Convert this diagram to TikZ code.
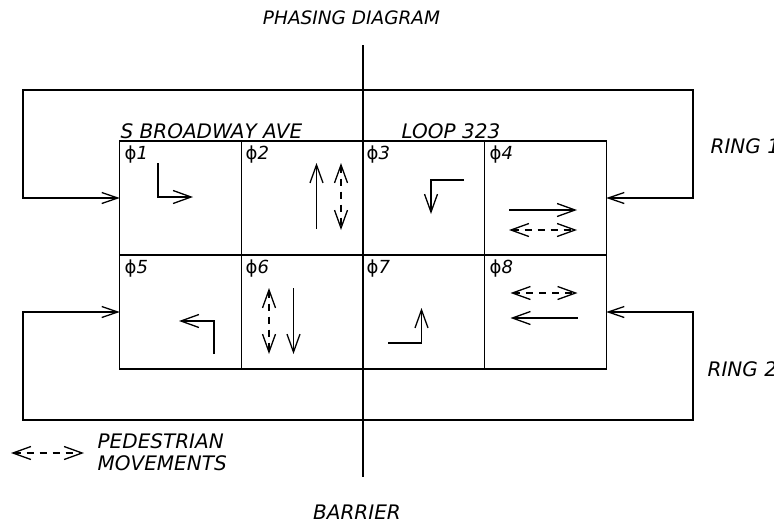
\documentclass[tikz,border=0pt]{standalone}
\usepackage{fontspec}
\setmainfont{DejaVu Sans}
\usetikzlibrary{arrows.meta}
\begin{document}
\begin{tikzpicture}[x=1pt,y=-1pt,
  line width=1.3pt,
  cellbox/.style={draw, minimum width=121.5pt, minimum height=114pt, inner sep=0pt, outer sep=0pt},
  lbl/.style={font=\fontsize{20}{22}\selectfont\itshape, inner sep=0pt},
  ph/.style={font=\fontsize{18}{20}\selectfont, inner sep=0pt, anchor=north west},
  tip/.style={-{Straight Barb[length=18pt,width=13pt]}},
  dtip/.style={{Straight Barb[length=18pt,width=13pt]}-{Straight Barb[length=18pt,width=13pt]}, dash pattern=on 7pt off 6pt},
  rtip/.style={{Straight Barb[length=16pt,width=11pt]}-{Straight Barb[length=16pt,width=11pt]}},
]
\useasboundingbox (0,0) rectangle (774,523);

% barrier
\coordinate (bt) at (363,45);
\coordinate (bb) at (363,477);
\draw (bt) -- (bb);

% cells
\node[cellbox] (c1) at (180.5,198) {};
\node[cellbox] (c2) at (302,198) {};
\node[cellbox] (c3) at (424,198) {};
\node[cellbox] (c4) at (545.5,198) {};
\node[cellbox] (c5) at (180.5,312) {};
\node[cellbox] (c6) at (302,312) {};
\node[cellbox] (c7) at (424,312) {};
\node[cellbox] (c8) at (545.5,312) {};

% phase labels
\node[ph] (p1) at (124,145) {\symbol{"03D5}\itshape 1};
\node[ph] (p2) at (245,145) {\symbol{"03D5}\itshape 2};
\node[ph] (p3) at (366,145) {\symbol{"03D5}\itshape 3};
\node[ph] (p4) at (489,145) {\symbol{"03D5}\itshape 4};
\node[ph] (p5) at (124,259) {\symbol{"03D5}\itshape 5};
\node[ph] (p6) at (245,259) {\symbol{"03D5}\itshape 6};
\node[ph] (p7) at (366,259) {\symbol{"03D5}\itshape 7};
\node[ph] (p8) at (489,259) {\symbol{"03D5}\itshape 8};

% rings
\coordinate (r1a) at (23,90);
\coordinate (r1b) at (693,90);
\draw[rtip] (c1.west) -| (r1a) -- (r1b) |- (c4.east);
\coordinate (r2a) at (23,420);
\coordinate (r2b) at (693,420);
\draw[rtip] (c5.west) -| (r2a) -- (r2b) |- (c8.east);

% movements
\draw[tip] (158,163) -- (158,197) -- (193,197);          % phi1
\draw[tip] (316.5,229) -- (316.5,163);                    % phi2
\draw[dtip] (341,163) -- (341,230);
\draw[tip] (464,180) -- (431,180) -- (431,214);           % phi3
\draw[tip] (509,210) -- (577,210);                        % phi4
\draw[dtip] (509,230) -- (577,230);
\draw[tip] (214,354) -- (214,321) -- (179,321);           % phi5
\draw[dtip] (269,288) -- (269,354);                       % phi6
\draw[tip] (293.5,288) -- (293.5,354);
\draw[tip] (388,343) -- (421.5,343) -- (421.5,308);       % phi7
\draw[dtip] (510.5,293) -- (577.5,293);                   % phi8
\draw[tip] (577.5,318) -- (510.5,318);

% texts
\node[lbl, font=\fontsize{18.5}{21}\selectfont\itshape] (title) at (351.5,18) {PHASING DIAGRAM};
\node[lbl, anchor=base west] (sb) at (120,138) {S BROADWAY AVE};
\node[lbl, anchor=base west] (loop) at (401,138) {LOOP 323};
\node[lbl, anchor=west] (ring1) at (710,146) {RING 1};
\node[lbl, anchor=west] (ring2) at (707,369) {RING 2};
\node[lbl] (barrier) at (357,512) {BARRIER};

% legend
\coordinate (lg1) at (11,453);
\coordinate (lg2) at (84,453);
\draw[dtip] (lg1) -- (lg2);
\node[lbl, anchor=west, align=left] (ped) at (97,452) {PEDESTRIAN\\MOVEMENTS};
\end{tikzpicture}
\end{document}
